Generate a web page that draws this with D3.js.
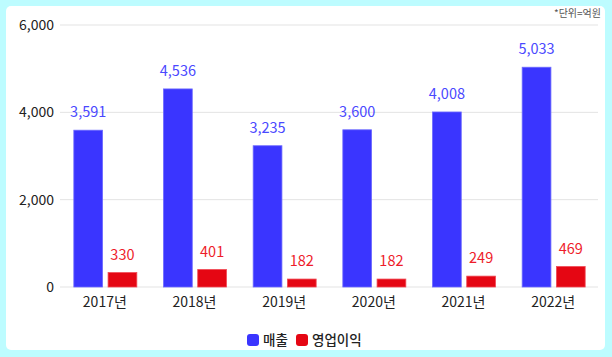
<!DOCTYPE html>
<html><head><meta charset="utf-8">
<script src="https://cdn.jsdelivr.net/npm/d3@7"></script>
<style>
html,body{margin:0;padding:0;background:#bdfcff;}
svg{display:block;}
</style></head>
<body>
<svg id="c" width="612" height="357"></svg>
<script>
const categories = ["2017년","2018년","2019년","2020년","2021년","2022년"];
const sales = [3591,4536,3235,3600,4008,5033];
const profit = [330,401,182,182,249,469];
const yTicks = [0,2000,4000,6000];
const seriesNames = ["매출","영업이익"];
const colors = ["#3a35ff","#e50613"];
const labelColors = ["#4a48ff","#ee1c2a"];

const svg = d3.select("#c");
const font = "'Noto Sans CJK KR', 'Noto Sans', sans-serif";

svg.append("rect").attr("x",6).attr("y",6).attr("width",599).attr("height",344)
  .attr("rx",5).attr("fill","#ffffff");

const x = d3.scaleBand().domain(categories).range([60,598]);
const y = d3.scaleLinear().domain([0,6000]).range([287,25]);

// grid
svg.append("g").selectAll("line").data(yTicks).join("line")
  .attr("x1",60).attr("x2",598).attr("y1",d=>y(d)).attr("y2",d=>y(d))
  .attr("stroke","#e3e3e3").attr("stroke-width",1);

// y labels
svg.append("g").selectAll("text").data(yTicks).join("text")
  .attr("x",54).attr("y",d=>y(d)).attr("dy","0.35em").attr("text-anchor","end")
  .attr("font-family",font).attr("font-size",14).attr("fill","#222")
  .text(d=>d3.format(",")(d));

// x labels
svg.append("g").selectAll("text").data(categories).join("text")
  .attr("x",d=>x(d)+x.bandwidth()/2).attr("y",302).attr("dy","0.35em").attr("text-anchor","middle")
  .attr("font-family",font).attr("font-size",14).attr("fill","#222")
  .text(d=>d);

const inner = d3.scaleBand().domain([0,1]).range([-31,32]).paddingInner(0.16);
const series = [sales, profit];
series.forEach((vals,si)=>{
  const g = svg.append("g");
  g.selectAll("rect").data(vals).join("rect")
    .attr("x",(d,i)=>x(categories[i])+x.bandwidth()/2+inner(si))
    .attr("width",inner.bandwidth())
    .attr("y",d=>y(d)).attr("height",d=>y(0)-y(d))
    .attr("fill",colors[si]).attr("stroke", si===0?"#6d6aff":"#f04a55").attr("stroke-width",0.8);
  g.selectAll("text").data(vals).join("text")
    .attr("x",(d,i)=>x(categories[i])+x.bandwidth()/2+inner(si)+inner.bandwidth()/2)
    .attr("y",d=>y(d)-18).attr("dy","0.35em").attr("text-anchor","middle")
    .attr("font-family",font).attr("font-size",14.5).attr("fill",labelColors[si])
    .text(d=>d3.format(",")(d));
});

// unit
svg.append("text").attr("x",601).attr("y",13).attr("dy","0.35em").attr("text-anchor","end")
  .attr("font-family",font).attr("font-size",10).attr("fill","#555").text("*단위=억원");

// legend
const legX = [247,296];
seriesNames.forEach((n,i)=>{
  svg.append("rect").attr("x",legX[i]).attr("y",334).attr("width",12).attr("height",12).attr("rx",3)
    .attr("fill",colors[i]);
  svg.append("text").attr("x",legX[i]+16).attr("y",340).attr("dy","0.35em")
    .attr("font-family",font).attr("font-size",13.5).attr("font-weight",500).attr("fill","#222").text(n);
});
</script>
</body></html>
